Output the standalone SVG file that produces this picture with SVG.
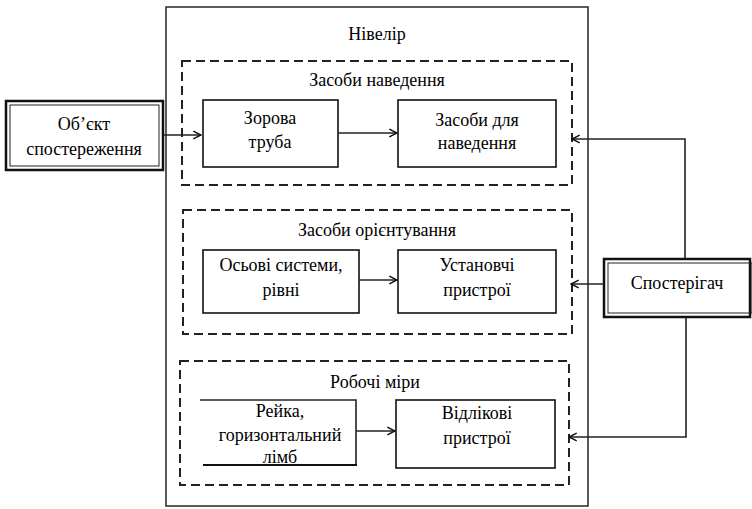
<svg xmlns="http://www.w3.org/2000/svg" width="752" height="509" viewBox="0 0 752 509">
  <defs>
    <marker id="arrow" viewBox="0 0 10 10" refX="9" refY="5" markerWidth="6" markerHeight="6" orient="auto">
      <path d="M1,1 L9,5 L1,9" fill="none" stroke="#111" stroke-width="1.6"/>
    </marker>
  </defs>

  <rect width="752" height="509" fill="#fff"/>

  <!-- Level (outer frame) -->
  <g id="nivelir">
    <rect x="166" y="7" width="422" height="499" fill="none" stroke="#333" stroke-width="1.6"/>
    <text x="377" y="40" font-family="Liberation Serif" font-size="18" text-anchor="middle">Нівелір</text>
  </g>

  <!-- Pointing means -->
  <g id="group-pointing">
    <rect x="182" y="61" width="390" height="124" fill="none" stroke="#222" stroke-width="2" stroke-dasharray="9 5"/>
    <text x="377" y="86" font-family="Liberation Serif" font-size="18" text-anchor="middle">Засоби наведення</text>
  </g>
  <g id="node-telescope">
    <rect x="203" y="100" width="135" height="67" fill="#fff" stroke="#111" stroke-width="1.6"/>
    <text x="270" y="124" font-family="Liberation Serif" font-size="18" text-anchor="middle">Зорова</text>
    <text x="270" y="148" font-family="Liberation Serif" font-size="18" text-anchor="middle">труба</text>
  </g>
  <g id="node-pointing-devices">
    <rect x="398" y="100" width="158" height="67" fill="#fff" stroke="#111" stroke-width="1.6"/>
    <text x="477" y="126" font-family="Liberation Serif" font-size="18" text-anchor="middle">Засоби для</text>
    <text x="477" y="149" font-family="Liberation Serif" font-size="18" text-anchor="middle">наведення</text>
  </g>

  <!-- Orientation means -->
  <g id="group-orientation">
    <rect x="183" y="210" width="389" height="124" fill="none" stroke="#222" stroke-width="2" stroke-dasharray="9 5"/>
    <text x="377" y="236" font-family="Liberation Serif" font-size="18" text-anchor="middle">Засоби орієнтування</text>
  </g>
  <g id="node-axes">
    <rect x="203" y="250" width="156" height="63" fill="#fff" stroke="#111" stroke-width="1.6"/>
    <text x="281" y="271" font-family="Liberation Serif" font-size="18" text-anchor="middle">Осьові системи,</text>
    <text x="281" y="296" font-family="Liberation Serif" font-size="18" text-anchor="middle">рівні</text>
  </g>
  <g id="node-setting">
    <rect x="398" y="250" width="158" height="63" fill="#fff" stroke="#111" stroke-width="1.6"/>
    <text x="477" y="271" font-family="Liberation Serif" font-size="18" text-anchor="middle">Установчі</text>
    <text x="477" y="296" font-family="Liberation Serif" font-size="18" text-anchor="middle">пристрої</text>
  </g>

  <!-- Working measures -->
  <g id="group-measures">
    <rect x="180" y="361" width="389" height="124" fill="none" stroke="#222" stroke-width="2" stroke-dasharray="9 5"/>
    <text x="375" y="388" font-family="Liberation Serif" font-size="18" text-anchor="middle">Робочі міри</text>
  </g>
  <g id="node-staff">
    <path d="M200,400 H356 V465" fill="none" stroke="#222" stroke-width="1.6"/>
    <path d="M203,465 H357" fill="none" stroke="#111" stroke-width="2.2"/>
    <text x="280" y="417" font-family="Liberation Serif" font-size="18" text-anchor="middle">Рейка,</text>
    <text x="280" y="441" font-family="Liberation Serif" font-size="18" text-anchor="middle">горизонтальний</text>
    <text x="280" y="463" font-family="Liberation Serif" font-size="18" text-anchor="middle">лімб</text>
  </g>
  <g id="node-reading">
    <rect x="396" y="400" width="159" height="68" fill="#fff" stroke="#111" stroke-width="1.6"/>
    <text x="477" y="419" font-family="Liberation Serif" font-size="18" text-anchor="middle">Відлікові</text>
    <text x="477" y="444" font-family="Liberation Serif" font-size="18" text-anchor="middle">пристрої</text>
  </g>

  <!-- Observed object -->
  <g id="node-object">
    <rect x="6" y="101" width="157" height="69" fill="none" stroke="#111" stroke-width="2.5"/>
    <rect x="10" y="105" width="149" height="61" fill="none" stroke="#222" stroke-width="1"/>
    <text x="84" y="130" font-family="Liberation Serif" font-size="18" text-anchor="middle">Об’єкт</text>
    <text x="84" y="155" font-family="Liberation Serif" font-size="18" text-anchor="middle">спостереження</text>
  </g>

  <!-- Observer -->
  <g id="node-observer">
    <rect x="604" y="259" width="146" height="58" fill="none" stroke="#111" stroke-width="2.5"/>
    <rect x="608" y="263" width="144" height="50" fill="none" stroke="#222" stroke-width="1"/>
    <text x="677" y="289" font-family="Liberation Serif" font-size="18" text-anchor="middle">Спостерігач</text>
  </g>

  <!-- Connectors -->
  <g id="connectors" fill="none" stroke="#222" stroke-width="1.6">
    <line x1="163" y1="135" x2="201" y2="135" marker-end="url(#arrow)"/>
    <line x1="338" y1="133" x2="397" y2="133" marker-end="url(#arrow)"/>
    <line x1="359" y1="280" x2="397" y2="280" marker-end="url(#arrow)"/>
    <line x1="356" y1="431" x2="395" y2="431" marker-end="url(#arrow)"/>
    <polyline points="685,258 685,139 572,139" marker-end="url(#arrow)"/>
    <line x1="604" y1="284" x2="571" y2="284" marker-end="url(#arrow)"/>
    <polyline points="686,317 686,437 569,437" marker-end="url(#arrow)"/>
  </g>
</svg>
